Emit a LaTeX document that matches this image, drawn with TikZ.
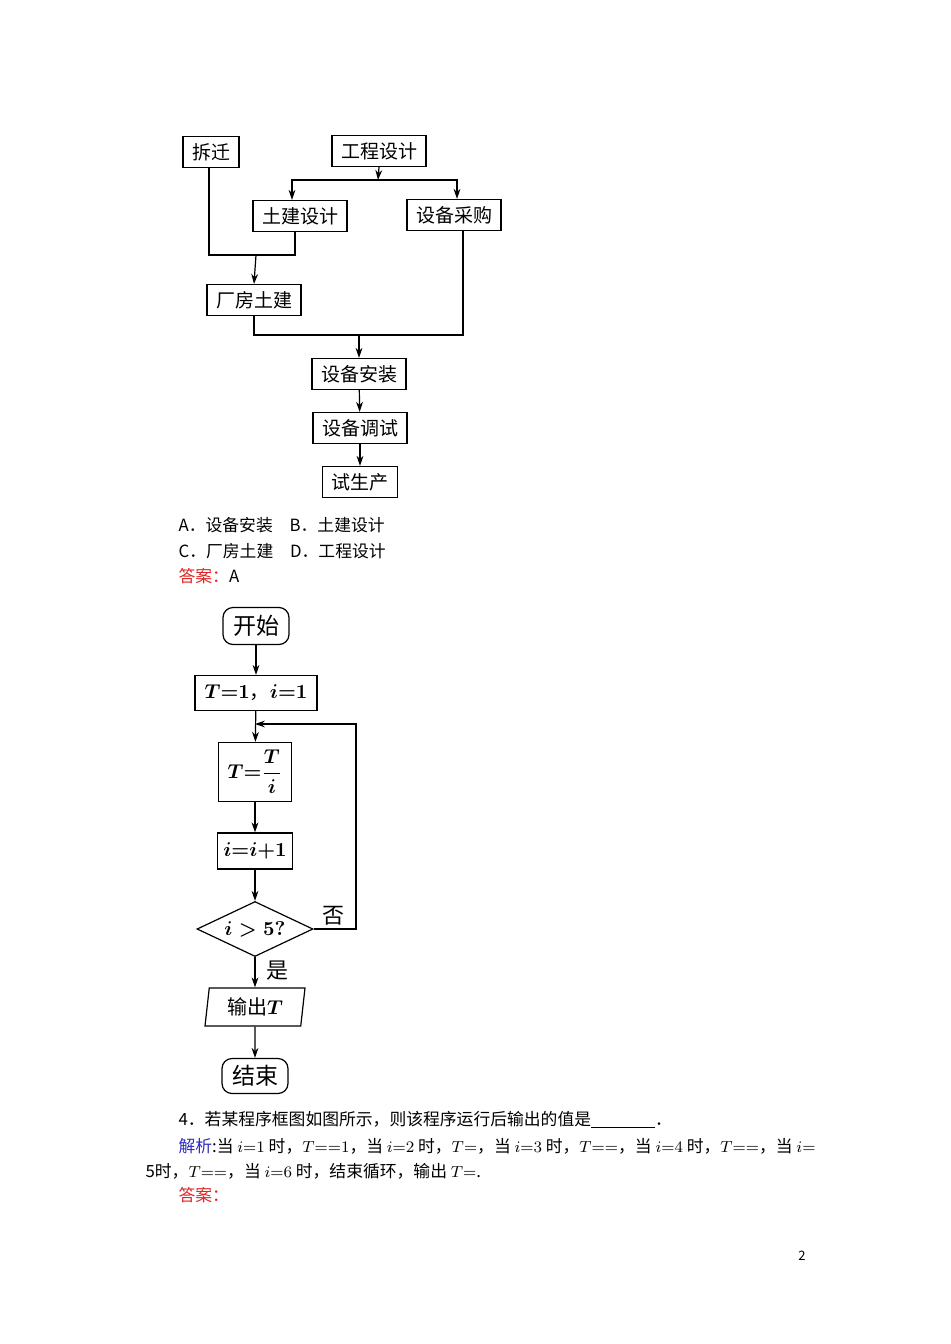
\documentclass[tikz,border=0pt]{standalone}
\usepackage[no-math]{fontspec}
\setmainfont{Noto Sans CJK SC}
\usepackage{amsmath}
\usepackage{xcolor}
\usetikzlibrary{arrows.meta,shapes.geometric,positioning}
\definecolor{daan}{RGB}{225,35,35}
\definecolor{jiexi}{RGB}{45,45,190}

\begin{document}
\begin{tikzpicture}[x=0.5pt,y=-0.5pt,line width=0.6pt,>={Stealth[length=5pt,width=3.4pt]},
	kuang/.style={draw,inner ysep=0pt,inner xsep=4.5pt,minimum height=15.5pt,font=\fontsize{9.5}{10}\selectfont},
	kuangb/.style={draw,inner sep=0pt,font=\fontsize{10}{12}\selectfont\boldmath},
	yuan/.style={kuangb,rounded corners=5pt,font=\fontsize{11.5}{13}\selectfont},
	biao/.style={inner sep=0pt,font=\fontsize{11}{13}\selectfont},
	wenzi/.style={anchor=west,inner sep=0pt,font=\fontsize{8.4}{10}\selectfont}]
			\useasboundingbox (0,0) rectangle (950,1344);
			\fill[white] (0,0) rectangle (950,1344);
			% first chart
			\node[kuang] (cq) at (211,152) {拆迁};
			\node[kuang] (gc) at (379,151) {工程设计};
			\node[kuang] (tj) at (300,216) {土建设计};
			\node[kuang] (sb) at (454,215) {设备采购};
			\node[kuang] (cf) at (254,300) {厂房土建};
			\node[kuang] (az) at (359,374) {设备安装};
			\node[kuang] (dt) at (360,428) {设备调试};
			\node[kuang] (sc) at (360,482) {试生产};
			\coordinate (f1) at (378,180);
			\coordinate (f2) at (256,255);
			\coordinate (f3) at (359,335);
			\draw[->] (gc.south) -- (f1);
			\draw[->] (f1) -| ([xshift=-4pt]tj.north);
			\draw[->] (f1) -| ([xshift=1.5pt]sb.north);
			\draw ([xshift=-1pt]cq.south) |- (f2) -| ([xshift=-2.5pt]tj.south);
			\draw[->] (f2) -- (cf.north);
			\draw (cf.south) |- (f3) -| ([xshift=4.5pt]sb.south);
			\draw[->] (f3) -- (az.north);
			\draw[->] (az) -- (dt);
			\draw[->] (dt) -- (sc);
			\node[wenzi] (xa) at (178,525) {A．设备安装\quad B．土建设计};
			\node[wenzi] (xc) at (178,551) {C．厂房土建\quad D．工程设计};
			\node[wenzi] (da1) at (178,576) {\textcolor{daan}{答案：}A};
			% second chart
			\node[yuan,minimum width=33pt,minimum height=18.5pt] (ks) at (256,626) {开始};
			\node[kuangb,minimum width=61pt,minimum height=17.5pt] (cs) at (256,693) {$T{=}1$，$i{=}1$};
			\node[kuangb,minimum width=36.5pt,minimum height=29.5pt] (tt) at (255,772) {$T{=}\dfrac{T}{i}$};
			\node[kuangb,minimum width=37.5pt,minimum height=18pt] (ii) at (255,851) {$i{=}i{+}1$};
			\node[kuangb,diamond,aspect=2,minimum width=58pt,minimum height=27.5pt] (pd) at (255,929) {$i>5?$};
			\node[kuangb,trapezium,trapezium left angle=77,trapezium right angle=103,trapezium stretches body,minimum width=50pt,minimum height=19pt] (sc2) at (255,1007) {输出$T$};
			\node[yuan,minimum width=33pt,minimum height=17.5pt] (js) at (255,1076) {结束};
			\draw[->] (ks) -- (cs);
			\draw[->] (cs) -- (tt);
			\draw[->] (tt) -- (ii);
			\draw[->] (ii) -- (pd);
			\draw[->] (pd) -- (sc2);
			\draw[->] (sc2) -- (js);
			\coordinate (hui) at (356,724);
			\draw[->] (pd.east) -| (hui) -- (hui -| tt.north);
			\node[biao] (fou) at (333,916) {否};
			\node[biao] (shi) at (277,971) {是};
			% question text
			\node[wenzi] (t1) at (178,1120) {4．若某程序框图如图所示，则该程序运行后输出的值是\underline{\hspace{32pt}}．};
			\node[wenzi] (t2) at (178,1146) {\textcolor{jiexi}{解析}:当 $i{=}1$ 时，$T{=}{=}1$，当 $i{=}2$ 时，$T{=}$，当 $i{=}3$ 时，$T{=}{=}$，当 $i{=}4$ 时，$T{=}{=}$，当 $i{=}$};
			\node[wenzi] (t3) at (145,1171) {5时，$T{=}{=}$，当 $i{=}6$ 时，结束循环，输出 $T{=}$.};
			\node[wenzi] (da2) at (178,1195) {\textcolor{daan}{答案：}};
			\node[inner sep=0pt,font=\fontsize{6.5}{8}\selectfont] (ye) at (802,1256) {2};
		\end{tikzpicture}
\end{document}
